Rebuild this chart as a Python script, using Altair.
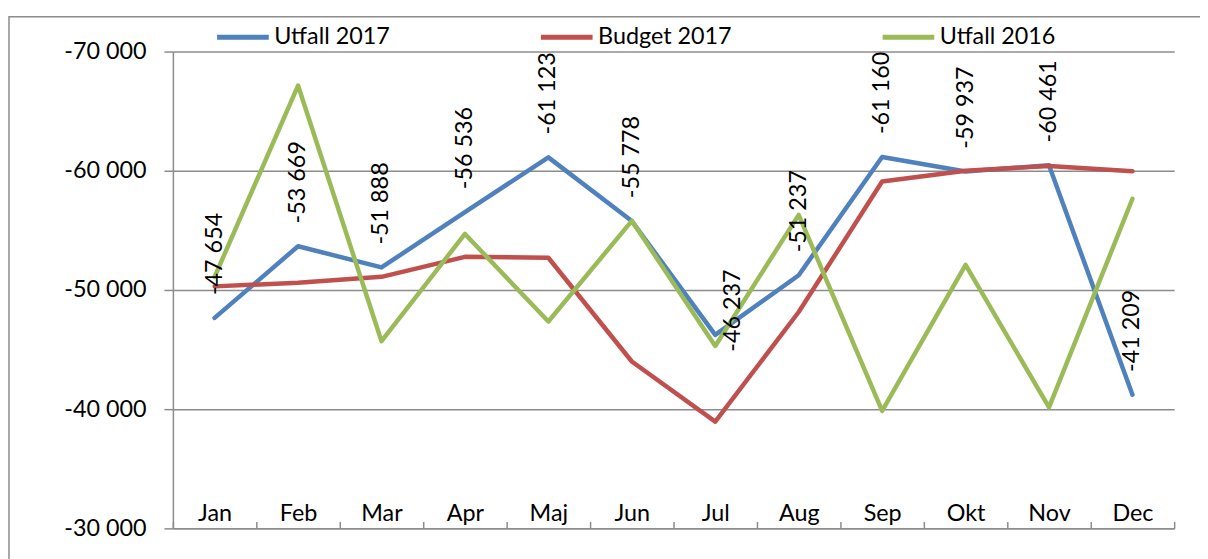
import altair as alt
import pandas as pd

months = ["Jan", "Feb", "Mar", "Apr", "Maj", "Jun", "Jul", "Aug", "Sep", "Okt", "Nov", "Dec"]
series_names = ["Utfall 2017", "Budget 2017", "Utfall 2016"]
series_colors = ["#4F81BD", "#C0504D", "#9BBB59"]

utfall_2017 = [-47654, -53669, -51888, -56536, -61123, -55778, -46237, -51237, -61160, -59937, -60461, -41209]
budget_2017 = [-50300, -50600, -51100, -52780, -52700, -44000, -38950, -48150, -59100, -60000, -60400, -59950]
utfall_2016 = [-51100, -67150, -45700, -54700, -47350, -55800, -45300, -56300, -39850, -52100, -40150, -57650]

y_ticks = [-70000, -60000, -50000, -40000, -30000]

rows = []
for name, vals in zip(series_names, [utfall_2017, budget_2017, utfall_2016]):
    for i, (m, v) in enumerate(zip(months, vals)):
        rows.append({"month": m, "series": name, "value": v, "order": i})
df = pd.DataFrame(rows)

FONT = "Lato"
FS = 23.5
GRID = "#8c8c8c"

x_enc = alt.X(
    "month:N",
    sort=months,
    scale=alt.Scale(type="band", paddingInner=0, paddingOuter=0),
    axis=alt.Axis(
        orient="top", offset=-480, labelAngle=0, tickBand="extent",
        tickSize=7, tickWidth=1.5, tickColor=GRID,
        domainColor=GRID, domainWidth=1.5,
        labelPadding=1, labelBaseline="alphabetic",
        labelFont=FONT, labelFontSize=FS, labelColor="black",
        grid=False, title=None,
    ),
)
y_enc = alt.Y(
    "value:Q",
    scale=alt.Scale(domain=[-70000, -30000], reverse=True, nice=False),
    axis=alt.Axis(
        values=y_ticks, grid=True, gridColor=GRID, gridWidth=1.5,
        domainColor=GRID, domainWidth=1.5, tickColor=GRID, tickWidth=1.5, tickSize=9,
        labelPadding=18, labelFont=FONT, labelFontSize=FS, labelColor="black",
        labelExpr="'-' + replace(format(abs(datum.value), ','), ',', ' ')",
        title=None,
    ),
)

border = alt.Chart(pd.DataFrame({"a": [0]})).mark_rect(
    fill=None, stroke=GRID, strokeWidth=1.5, clip=False
).encode(
    x=alt.value(-165), x2=alt.value(1060), y=alt.value(-35), y2=alt.value(530)
)

lines = alt.Chart(df).mark_line(strokeWidth=4.5, strokeCap="round", strokeJoin="round").encode(
    x=x_enc,
    y=y_enc,
    color=alt.Color(
        "series:N",
        scale=alt.Scale(domain=series_names, range=series_colors),
        legend=alt.Legend(
            orient="none", legendX=42, legendY=-43, direction="horizontal",
            title=None, symbolType="stroke", symbolSize=2704, symbolStrokeWidth=5,
            labelFont=FONT, labelFontSize=FS, labelColor="black", labelOffset=3,
            columnPadding=141, padding=0,
        ),
    ),
    order="order:Q",
)

label_base = alt.Chart(df[df["series"] == "Utfall 2017"]).transform_calculate(
    lab="'-' + replace(format(abs(datum.value), ','), ',', ' ')"
)

labels = label_base.transform_filter(alt.datum.month != "Jul").mark_text(
    angle=270, align="left", baseline="middle", dx=23, font=FONT, fontSize=FS, color="black"
).encode(x=alt.X("month:N", sort=months), y="value:Q", text="lab:N")

labels_jul = label_base.transform_filter(alt.datum.month == "Jul").mark_text(
    angle=270, align="left", baseline="middle", dx=-17, dy=18, font=FONT, fontSize=FS, color="black"
).encode(x=alt.X("month:N", sort=months), y="value:Q", text="lab:N")

chart = alt.layer(border, lines, labels, labels_jul).properties(
    width=1008, height=480,
    autosize=alt.AutoSizeParams(type="none"),
    padding={"left": 166, "top": 42, "right": 26, "bottom": 29},
).configure_view(stroke=None)

chart.save("out.html", embed_options={"renderer": "svg", "actions": False})
